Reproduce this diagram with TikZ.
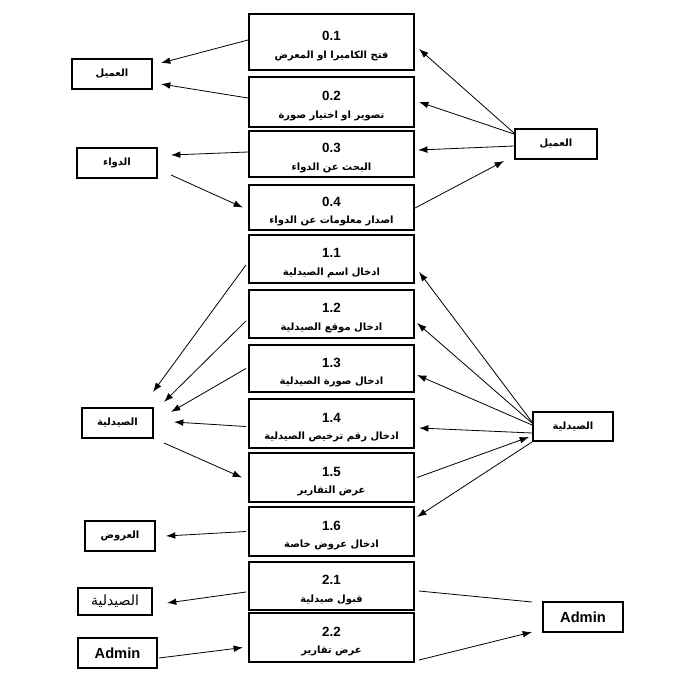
\documentclass[tikz,border=0pt]{standalone}
\usepackage{fontspec}
\setmainfont{Liberation Sans}
\newfontfamily\arfont[Script=Arabic]{DejaVu Sans}
\TeXXeTstate=1
\usetikzlibrary{calc,arrows.meta}
\newcommand{\artxt}[1]{{\arfont\bfseries\fontsize{7.5}{9}\selectfont #1}}
\newcommand{\mtxt}[2]{{\bfseries\fontsize{10}{12}\selectfont\rule{0pt}{13pt}#1}\\[1pt]\artxt{#2}}
\begin{document}
\begin{tikzpicture}[x=0.75pt,y=-0.75pt,
  mbox/.style={draw, line width=1.6pt, minimum width=123.75pt, inner sep=0pt, align=center},
  sbox/.style={draw, line width=1.5pt, inner sep=0pt, minimum height=22.5pt},
  conn/.style={line width=0.6pt, -{Latex[length=7pt,width=5pt]}},
  plainln/.style={line width=0.6pt}
]
\useasboundingbox (0,0) rectangle (675,683);
% middle boxes
\node[mbox, minimum height=42pt]    (m01) at (331.5,42)    {\mtxt{0.1}{\beginR فتح الكاميرا او المعرض\endR}};
\node[mbox, minimum height=37.5pt]  (m02) at (331.5,102)   {\mtxt{0.2}{\beginR تصوير او اختيار صورة\endR}};
\node[mbox, minimum height=34.5pt]  (m03) at (331.5,154)   {\mtxt{0.3}{\beginR البحث عن الدواء\endR}};
\node[mbox, minimum height=33.75pt] (m04) at (331.5,207.5) {\mtxt{0.4}{\beginR اصدار معلومات عن الدواء\endR}};
\node[mbox, minimum height=36pt]    (m11) at (331.5,259)   {\mtxt{1.1}{\beginR ادخال اسم الصيدلية\endR}};
\node[mbox, minimum height=36pt]    (m12) at (331.5,314)   {\mtxt{1.2}{\beginR ادخال موقع الصيدلية\endR}};
\node[mbox, minimum height=35.25pt] (m13) at (331.5,368.5) {\mtxt{1.3}{\beginR ادخال صورة الصيدلية\endR}};
\node[mbox, minimum height=36.75pt] (m14) at (331.5,423.5) {\mtxt{1.4}{\beginR ادخال رقم ترخيص الصيدلية\endR}};
\node[mbox, minimum height=36.75pt] (m15) at (331.5,477.5) {\mtxt{1.5}{\beginR عرض التقارير\endR}};
\node[mbox, minimum height=36.75pt] (m16) at (331.5,531.5) {\mtxt{1.6}{\beginR ادخال عروض خاصة\endR}};
\node[mbox, minimum height=36pt]    (m21) at (331.5,586)   {\mtxt{2.1}{\beginR قبول صيدلية\endR}};
\node[mbox, minimum height=36.75pt] (m22) at (331.5,637.5) {\mtxt{2.2}{\beginR عرض تقارير\endR}};
% left boxes
\node[sbox, minimum width=60pt]    (lc)  at (112,74)    {\artxt{\beginR العميل\endR}};
\node[sbox, minimum width=60pt]    (ld)  at (117,163)   {\artxt{\beginR الدواء\endR}};
\node[sbox, minimum width=53.25pt] (lp)  at (117.5,423) {\artxt{\beginR الصيدلية\endR}};
\node[sbox, minimum width=52.5pt]  (lo)  at (120,536)   {\artxt{\beginR العروض\endR}};
\node[sbox, minimum width=55.5pt, minimum height=20.25pt] (lp2) at (115,601.5) {{\arfont\fontsize{10.5}{12}\selectfont\beginR الصيدلية\endR}};
\node[sbox, minimum width=59.25pt] (la)  at (117.5,653) {{\bfseries\fontsize{11}{13}\selectfont Admin}};
% right boxes
\node[sbox, minimum width=61.5pt]  (rc)  at (556,144)   {\artxt{\beginR العميل\endR}};
\node[sbox, minimum width=60pt, minimum height=21.75pt] (rp) at (573,426.5) {\artxt{\beginR الصيدلية\endR}};
\node[sbox, minimum width=60pt]    (ra)  at (583,617)   {{\bfseries\fontsize{11}{13}\selectfont Admin}};
% left connectors
\draw[conn] ($(m01.west)+(0,-2)$) -- ($(lc.east)+(8,-11)$);
\draw[conn] ($(m02.west)+(0,-4)$) -- ($(lc.east)+(8,10)$);
\draw[conn] ($(m03.west)+(0,-2)$) -- ($(ld.east)+(13,-8)$);
\draw[conn] ($(ld.east)+(13,12)$) -- ($(m04.west)+(-5,0)$);
\draw[conn] ($(m11.west)+(-2,6)$) -- ($(lp.north east)+(-1,-15)$);
\draw[conn] ($(m12.west)+(-2,7)$) -- ($(lp.north east)+(10,-5)$);
\draw[conn] ($(m13.west)+(-2,0)$) -- ($(lp.east)+(17,-11)$);
\draw[conn] ($(m14.west)+(-2,3)$) -- ($(lp.east)+(20,-1)$);
\draw[conn] ($(lp.south east)+(10,4)$) -- ($(m15.west)+(-6,0)$);
\draw[conn] ($(m16.west)+(-2,0)$) -- ($(lo.east)+(10,0)$);
\draw[conn] ($(m21.west)+(-2,6)$) -- ($(lp2.east)+(14,1.5)$);
\draw[conn] ($(la.east)+(1,5)$) -- ($(m22.west)+(-5,10)$);
% right connectors
\draw[conn] ($(rc.west)+(0,-11)$) -- ($(m01.east)+(4,7)$);
\draw[conn] ($(rc.west)+(0,-10)$) -- ($(m02.east)+(4,0)$);
\draw[conn] ($(rc.west)+(0,2)$) -- ($(m03.east)+(3,-4)$);
\draw[conn] ($(m04.east)+(0,0.5)$) -- ($(rc.south west)+(-10,1)$);
\draw[conn] ($(rp.west)+(0,-4.5)$) -- ($(m11.east)+(4,13)$);
\draw[conn] ($(rp.west)+(0,-3.5)$) -- ($(m12.east)+(2,9)$);
\draw[conn] ($(rp.west)+(0,-1.5)$) -- ($(m13.east)+(2,6.5)$);
\draw[conn] ($(rp.west)+(0,6.5)$) -- ($(m14.east)+(4,4.5)$);
\draw[conn] ($(m15.east)+(2,0)$) -- ($(rp.west)+(-3,10.5)$);
\draw[conn] ($(rp.west)+(0,15.5)$) -- ($(m16.east)+(2,-14.5)$);
\draw[plainln] ($(m21.east)+(4,5)$) -- ($(ra.west)+(-10,-15)$);
\draw[conn] ($(m22.east)+(4,22.5)$) -- ($(ra.west)+(-10,15)$);
\end{tikzpicture}
\end{document}
